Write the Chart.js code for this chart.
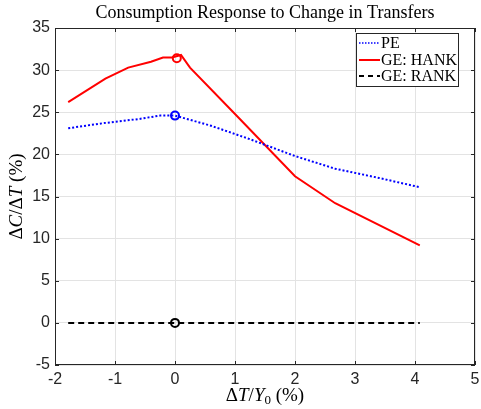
<!DOCTYPE html>
<html>
<head>
<meta charset="utf-8">
<script src="https://cdn.jsdelivr.net/npm/chart.js@4.4.0/dist/chart.umd.min.js"></script>
<style>
  html, body { margin: 0; padding: 0; background: #fff; }
  #wrap { width: 481px; height: 409px; }
</style>
</head>
<body>
<div id="wrap"><canvas id="respChart" width="481" height="409"></canvas></div>
<script>
// values
const peX = [-1.78, -1.2, -0.6, -0.25, 0, 0.6, 1.25, 2.0, 2.67, 3.4, 4.08];
const peY = [23.1, 23.7, 24.2, 24.6, 24.6, 23.4, 21.8, 19.8, 18.3, 17.2, 16.1];

const hankX = [-1.78, -1.16, -0.78, -0.4, -0.2, -0.05, 0.1, 0.25, 1.0, 2.0, 2.67, 4.08];
const hankY = [26.2, 29.0, 30.3, 31.0, 31.5, 31.5, 31.8, 30.3, 24.8, 17.4, 14.2, 9.2];

const rankX = [-1.78, 0, 4.08];
const rankY = [0, 0, 0];

// steady-state markers at dT = 0
const markX = [0, 0.03, 0];
const markY = [24.6, 31.4, 0];

const xTicks = [-2, -1, 0, 1, 2, 3, 4, 5];
const yTicks = [-5, 0, 5, 10, 15, 20, 25, 30, 35];

const legendLabels = ['PE', 'GE: HANK', 'GE: RANK'];
const lineColors = ['#0000ff', '#ff0000', '#000000'];

function toPoints(xs, ys) {
    return xs.map(function (x, i) { return { x: x, y: ys[i] }; });
}

const axisColor = '#262626';
const serif = '"Liberation Serif", serif';

// draws a list of [text, style, dy] pieces centred on cx
function drawPieces(ctx, pieces, cx, cy) {
    var total = 0;
    pieces.forEach(function (p) { ctx.font = p[1]; total += ctx.measureText(p[0]).width; });
    var x = cx - total / 2;
    ctx.textAlign = 'left';
    pieces.forEach(function (p) {
        ctx.font = p[1];
        ctx.fillText(p[0], x, cy + (p[2] || 0));
        x += ctx.measureText(p[0]).width;
    });
}

const decor = {
    id: 'decor',
    beforeDraw: function (chart) {
        const ctx = chart.ctx;
        ctx.save();
        ctx.fillStyle = '#fff';
        ctx.fillRect(0, 0, chart.width, chart.height);
        ctx.restore();
    },
    afterDraw: function (chart) {
        const ctx = chart.ctx;
        const a = chart.chartArea;
        const xs = chart.scales.x, ys = chart.scales.y;
        ctx.save();
        // box
        ctx.strokeStyle = axisColor;
        ctx.lineWidth = 1;
        ctx.strokeRect(a.left + 0.5, a.top + 0.5, a.right - a.left - 1, a.bottom - a.top - 1);
        // inner ticks
        ctx.beginPath();
        xTicks.forEach(function (v) {
            const px = Math.round(xs.getPixelForValue(v)) + 0.5;
            ctx.moveTo(px, a.bottom); ctx.lineTo(px, a.bottom - 4);
            ctx.moveTo(px, a.top); ctx.lineTo(px, a.top + 4);
        });
        yTicks.forEach(function (v) {
            const py = Math.round(ys.getPixelForValue(v)) + 0.5;
            ctx.moveTo(a.left, py); ctx.lineTo(a.left + 4, py);
            ctx.moveTo(a.right, py); ctx.lineTo(a.right - 4, py);
        });
        ctx.stroke();

        // title
        ctx.fillStyle = '#000';
        ctx.textAlign = 'center';
        ctx.textBaseline = 'middle';
        ctx.font = '18px ' + serif;
        ctx.fillText('Consumption Response to Change in Transfers', (a.left + a.right) / 2, 13);

        // axis titles
        const up = '19px ' + serif, it = 'italic 19px ' + serif, sub = '13px ' + serif;
        drawPieces(ctx, [['\u0394', up], ['T', it], ['/', up], ['Y', it], ['0', sub, 5], [' (%)', up]],
            (a.left + a.right) / 2, 396);
        ctx.save();
        ctx.translate(17, (a.top + a.bottom) / 2);
        ctx.rotate(-Math.PI / 2);
        drawPieces(ctx, [['\u0394', up], ['C', it], ['/', up], ['\u0394', up], ['T', it], [' (%)', up]], 0, 0);
        ctx.restore();

        // legend
        const lx = 356, ly = 33, lw = 102, lh = 53;
        ctx.fillStyle = '#fff';
        ctx.fillRect(lx, ly, lw, lh);
        ctx.strokeStyle = axisColor;
        ctx.strokeRect(lx + 0.5, ly + 0.5, lw, lh);
        const rows = [43, 60, 76];
        const dashes = [[1.5, 1.5], [], [5, 4]];
        ctx.font = '16px ' + serif;
        ctx.textAlign = 'left';
        rows.forEach(function (ry, i) {
            ctx.beginPath();
            ctx.setLineDash(dashes[i]);
            ctx.strokeStyle = lineColors[i];
            ctx.lineWidth = i === 0 ? 1.5 : 2;
            ctx.moveTo(359, ry);
            ctx.lineTo(380, ry);
            ctx.stroke();
            ctx.setLineDash([]);
            ctx.fillStyle = '#000';
            ctx.fillText(legendLabels[i], 381, ry + 1);
        });
        ctx.restore();
    }
};

new Chart(document.getElementById('respChart').getContext('2d'), {
    type: 'scatter',
    data: {
        datasets: [
            {
                label: legendLabels[0],
                data: toPoints(peX, peY),
                showLine: true,
                borderColor: lineColors[0],
                borderWidth: 2,
                borderDash: [2, 2],
                pointRadius: 0
            },
            {
                label: legendLabels[1],
                data: toPoints(hankX, hankY),
                showLine: true,
                borderColor: lineColors[1],
                borderWidth: 2,
                pointRadius: 0
            },
            {
                label: legendLabels[2],
                data: toPoints(rankX, rankY),
                showLine: true,
                borderColor: lineColors[2],
                borderWidth: 2,
                borderDash: [6, 4],
                pointRadius: 0
            },
            {
                label: 'markers',
                data: toPoints(markX, markY),
                showLine: false,
                pointRadius: 4,
                pointBorderWidth: 2,
                pointBackgroundColor: 'rgba(0,0,0,0)',
                pointBorderColor: lineColors
            }
        ]
    },
    options: {
        responsive: false,
        animation: false,
        layout: { padding: { top: 28, right: 6, left: 0, bottom: 0 } },
        plugins: {
            legend: { display: false },
            tooltip: { enabled: false },
            title: { display: false }
        },
        scales: {
            x: {
                type: 'linear',
                min: -2,
                max: 5,
                afterFit: function (s) { s.height = 44; s.paddingRight = 0; },
                afterBuildTicks: function (s) { s.ticks = xTicks.map(function (v) { return { value: v }; }); },
                grid: { color: '#e3e3e3', drawTicks: false },
                border: { display: false },
                ticks: {
                    color: axisColor,
                    padding: 5,
                    font: { family: '"Liberation Sans", Arial, sans-serif', size: 16 }
                }
            },
            y: {
                min: -5,
                max: 35,
                afterFit: function (s) { s.width = 55; },
                afterBuildTicks: function (s) { s.ticks = yTicks.map(function (v) { return { value: v }; }); },
                grid: { color: '#e3e3e3', drawTicks: false },
                border: { display: false },
                ticks: {
                    color: axisColor,
                    padding: 5,
                    font: { family: '"Liberation Sans", Arial, sans-serif', size: 16 }
                }
            }
        }
    },
    plugins: [decor]
});
</script>
</body>
</html>
